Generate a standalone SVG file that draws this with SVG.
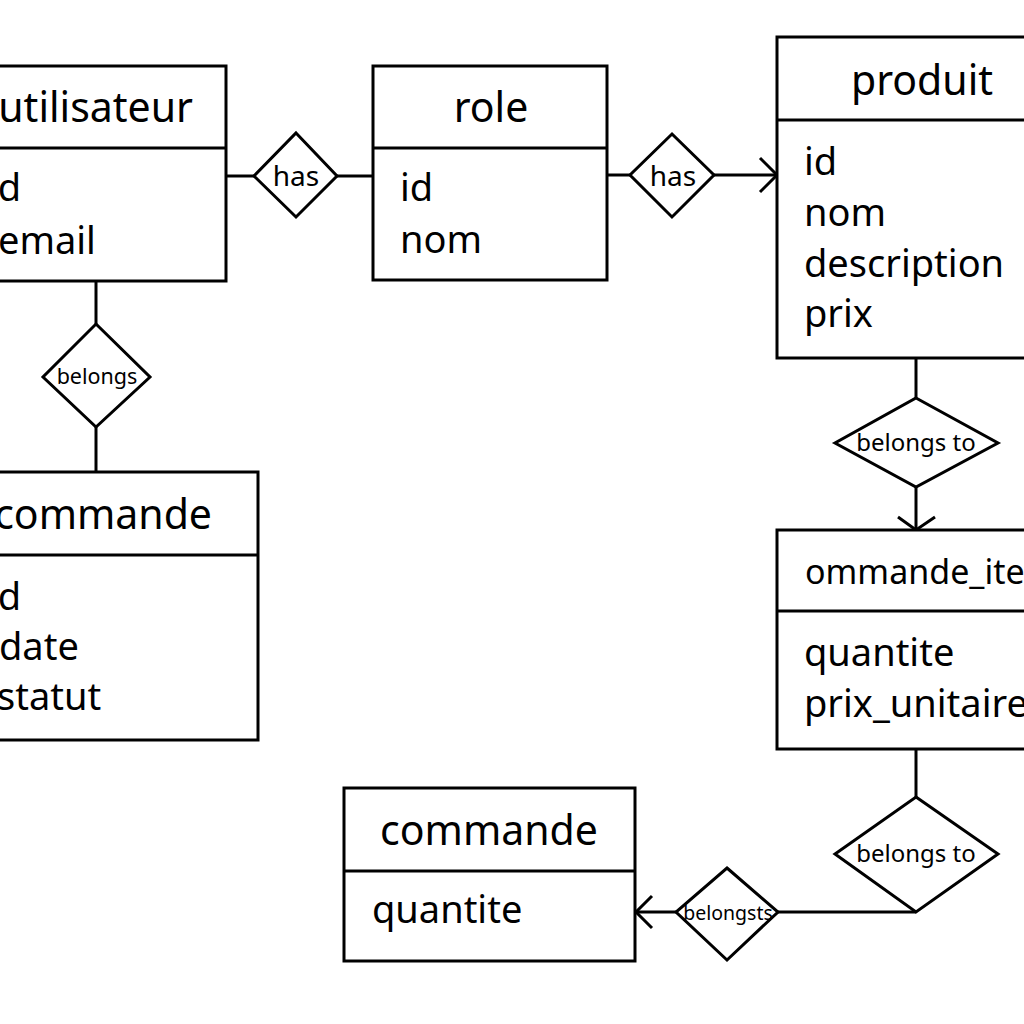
<svg xmlns="http://www.w3.org/2000/svg" width="1024" height="1024" viewBox="0 0 1024 1024">
<style>
.box{fill:#fff;stroke:#000;stroke-width:3}
.ln{fill:none;stroke:#000;stroke-width:3}
.dia{fill:#fff;stroke:#000;stroke-width:3}
text{font-family:"Noto Sans","Open Sans","DejaVu Sans",sans-serif;fill:#000}
.t{font-size:41px}
.a{font-size:38px}
.r1{font-size:28px;text-anchor:middle}
.r2{font-size:24px;text-anchor:middle}
</style>
<rect width="1024" height="1024" fill="#fff"/>
<g id="connectors">
<line class="ln" x1="226" y1="176" x2="254" y2="176"/>
<line class="ln" x1="337" y1="176" x2="373" y2="176"/>
<line class="ln" x1="96" y1="281" x2="96" y2="324"/>
<line class="ln" x1="96" y1="427" x2="96" y2="472"/>
<line class="ln" x1="607" y1="175" x2="630" y2="175"/>
<line class="ln" x1="714" y1="175" x2="777" y2="175"/>
<polyline class="ln" points="760,158 777,175 760,192"/>
<line class="ln" x1="916" y1="358" x2="916" y2="398"/>
<line class="ln" x1="916" y1="487" x2="916" y2="530"/>
<polyline class="ln" points="898,517 916,530 935,517"/>
<line class="ln" x1="916" y1="749" x2="916" y2="797"/>
<line class="ln" x1="916" y1="912" x2="778" y2="912"/>
<line class="ln" x1="676" y1="912" x2="636" y2="912"/>
<polyline class="ln" points="652,896 636,912 652,928"/>
</g>
<g id="utilisateur">
<rect class="box" x="-10" y="66" width="236" height="215"/>
<line class="ln" x1="-10" y1="148" x2="226" y2="148"/>
<text class="t" x="193" y="122" text-anchor="end">utilisateur</text>
<text class="a" x="-12" y="201">id</text>
<text class="a" x="-2" y="254">email</text>
</g>
<g id="role">
<rect class="box" x="373" y="66" width="234" height="214"/>
<line class="ln" x1="373" y1="148" x2="607" y2="148"/>
<text class="t" x="491" y="122" text-anchor="middle">role</text>
<text class="a" x="400" y="201">id</text>
<text class="a" x="400" y="253">nom</text>
</g>
<g id="produit">
<rect class="box" x="777" y="37" width="260" height="321"/>
<line class="ln" x1="777" y1="120" x2="1037" y2="120"/>
<text class="t" x="922" y="95" text-anchor="middle">produit</text>
<text class="a" x="804" y="175">id</text>
<text class="a" x="804" y="226">nom</text>
<text class="a" x="804" y="277">description</text>
<text class="a" x="804" y="327">prix</text>
</g>
<g id="commande_left">
<rect class="box" x="-10" y="472" width="268" height="268"/>
<line class="ln" x1="-10" y1="555" x2="258" y2="555"/>
<text class="t" x="212" y="529" text-anchor="end">commande</text>
<text class="a" x="-12" y="610">id</text>
<text class="a" x="-1" y="660">date</text>
<text class="a" x="-3" y="710">statut</text>
</g>
<g id="commande_item">
<rect class="box" x="777" y="530" width="260" height="219"/>
<line class="ln" x1="777" y1="611" x2="1037" y2="611"/>
<text x="805" y="584" style="font-size:34px">ommande_ite</text>
<text class="a" x="804" y="666">quantite</text>
<text class="a" x="804" y="717">prix_unitaire</text>
</g>
<g id="commande_bottom">
<rect class="box" x="344" y="788" width="291" height="173"/>
<line class="ln" x1="344" y1="871" x2="635" y2="871"/>
<text class="t" x="489" y="845" text-anchor="middle">commande</text>
<text class="a" x="372" y="923">quantite</text>
</g>
<g id="has1">
<polygon class="dia" points="296,133 337,176 296,217 254,176"/>
<text class="r1" x="296" y="186">has</text>
</g>
<g id="belongs1">
<polygon class="dia" points="96,324 150,377 96,427 43,377"/>
<text x="97" y="384" style="font-size:21.5px;text-anchor:middle">belongs</text>
</g>
<g id="has2">
<polygon class="dia" points="672,134 714,175 672,217 630,175"/>
<text class="r1" x="673" y="186">has</text>
</g>
<g id="belongsto1">
<polygon class="dia" points="916,398 998,443 916,487 835,443"/>
<text class="r2" x="916" y="451">belongs to</text>
</g>
<g id="belongsto2">
<polygon class="dia" points="916,797 998,854 916,912 835,854"/>
<text class="r2" x="916" y="862">belongs to</text>
</g>
<g id="belongsts">
<polygon class="dia" points="727,868 778,912 727,960 676,912"/>
<text x="728" y="920" style="font-size:19.5px;text-anchor:middle">belongsts</text>
</g>
</svg>
